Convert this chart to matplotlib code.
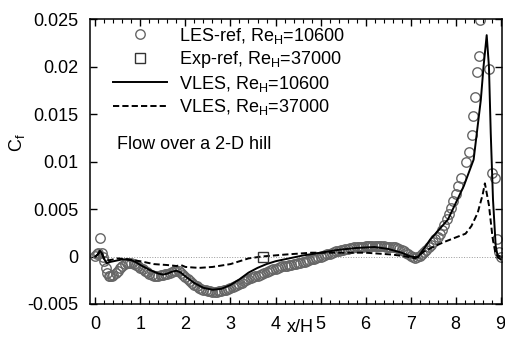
import matplotlib
matplotlib.use("Agg")
import matplotlib.pyplot as plt
from matplotlib.ticker import MultipleLocator

plt.rcParams["font.family"] = ["Liberation Sans", "DejaVu Sans"]
plt.rcParams["mathtext.fontset"] = "custom"
plt.rcParams["mathtext.rm"] = "Liberation Sans"
plt.rcParams["mathtext.default"] = "regular"

# LES reference, Re_H = 10600 (Cf values x 1e-3)
les_x = [0.00, 0.03, 0.06, 0.11, 0.14, 0.17, 0.20, 0.23, 0.26, 0.30, 0.33, 0.36,
         0.40, 0.45, 0.50, 0.55, 0.60, 0.65, 0.70, 0.75, 0.80, 0.85, 0.90, 0.95,
         1.00, 1.05, 1.10, 1.15, 1.20, 1.25, 1.30, 1.35, 1.40, 1.45, 1.50, 1.55,
         1.60, 1.65, 1.70, 1.75, 1.80, 1.85, 1.90, 1.95, 2.00, 2.05, 2.10, 2.15,
         2.20, 2.25, 2.30, 2.35, 2.40, 2.45, 2.50, 2.55, 2.60, 2.65, 2.70, 2.75,
         2.80, 2.85, 2.90, 2.95, 3.00, 3.05, 3.10, 3.15, 3.20, 3.25, 3.30, 3.35,
         3.40, 3.45, 3.50, 3.55, 3.60, 3.65, 3.70, 3.75, 3.80, 3.85, 3.90, 3.95,
         4.00, 4.05, 4.10, 4.15, 4.20, 4.25, 4.30, 4.35, 4.40, 4.45, 4.50, 4.55,
         4.60, 4.65, 4.70, 4.75, 4.80, 4.85, 4.90, 4.95, 5.00, 5.05, 5.10, 5.15,
         5.20, 5.25, 5.30, 5.35, 5.40, 5.45, 5.50, 5.55, 5.60, 5.65, 5.70, 5.75,
         5.80, 5.85, 5.90, 5.95, 6.00, 6.05, 6.10, 6.15, 6.20, 6.25, 6.30, 6.35,
         6.40, 6.45, 6.50, 6.55, 6.60, 6.65, 6.70, 6.75, 6.80, 6.85, 6.90, 6.95,
         7.00, 7.05, 7.10, 7.15, 7.20, 7.25, 7.30, 7.35, 7.40, 7.45, 7.50, 7.55,
         7.60, 7.65, 7.70, 7.75, 7.80, 7.85, 7.90, 7.95, 8.00, 8.05, 8.11,
         8.22, 8.29, 8.36, 8.38, 8.43, 8.47, 8.51, 8.54,
         8.74, 8.80, 8.87, 8.91, 8.96, 9.00]
les_y = [0.1, 0.3, 0.4, 2.0, 0.4, 0.0, -0.5, -1.2, -1.7, -2.0, -2.1, -2.0,
         -1.9, -1.7, -1.5, -1.2, -1.0, -0.8, -0.7, -0.65, -0.7, -0.8, -0.9, -1.05,
         -1.2, -1.35, -1.5, -1.65, -1.8, -1.9, -2.0, -2.05, -2.0, -1.95, -1.9, -1.85,
         -1.8, -1.7, -1.6, -1.55, -1.5, -1.55, -1.7, -1.95, -2.2, -2.4, -2.6, -2.8,
         -3.0, -3.15, -3.3, -3.4, -3.5, -3.55, -3.6, -3.65, -3.7, -3.7, -3.7, -3.65,
         -3.6, -3.55, -3.5, -3.4, -3.3, -3.2, -3.1, -3.0, -2.9, -2.75, -2.6, -2.5,
         -2.4, -2.3, -2.2, -2.1, -2.0, -1.9, -1.8, -1.7, -1.6, -1.5, -1.4, -1.35,
         -1.3, -1.2, -1.1, -1.05, -1.0, -0.95, -0.9, -0.85, -0.8, -0.75, -0.7, -0.65,
         -0.6, -0.55, -0.5, -0.4, -0.3, -0.25, -0.2, -0.1, 0.0, 0.1, 0.2, 0.25,
         0.3, 0.4, 0.5, 0.55, 0.6, 0.65, 0.7, 0.75, 0.8, 0.85, 0.9, 0.95,
         1.0, 1.0, 1.0, 1.05, 1.1, 1.1, 1.1, 1.1, 1.1, 1.1, 1.1, 1.1,
         1.1, 1.05, 1.0, 1.0, 1.0, 0.95, 0.9, 0.8, 0.7, 0.55, 0.4, 0.25,
         0.1, -0.1, -0.2, -0.1, 0.1, 0.3, 0.5, 0.7, 0.95, 1.2, 1.5, 1.8,
         2.1, 2.4, 2.8, 3.3, 3.9, 4.5, 5.1, 5.8, 6.6, 7.4, 8.3,
         9.9, 11.0, 12.8, 14.8, 16.8, 19.4, 21.1, 24.9,
         19.7, 8.8, 8.3, 1.8, 0.5, -0.1]

# experiment, Re_H = 37000
exp_x = [3.73]
exp_y = [0.0]

# VLES, Re_H = 10600
vles1_x = [0.00, 0.05, 0.10, 0.15, 0.20, 0.25, 0.30, 0.40, 0.50, 0.60, 0.70, 0.80,
           0.90, 1.00, 1.20, 1.40, 1.50, 1.60, 1.70, 1.80, 1.90, 2.00, 2.20, 2.40,
           2.60, 2.80, 3.00, 3.20, 3.40, 3.60, 3.80, 4.00, 4.30, 4.60, 5.00, 5.40,
           5.80, 6.20, 6.50, 6.80, 7.00, 7.16, 7.44, 7.83, 8.18, 8.40, 8.56, 8.62,
           8.69, 8.74, 8.78, 8.83, 8.89, 8.94, 9.00]
vles1_y = [0.0, 0.2, 0.6, 0.3, -0.3, -0.7, -0.6, -0.5, -0.4, -0.3, -0.3, -0.4,
           -0.6, -0.9, -1.4, -1.8, -1.9, -1.8, -1.6, -1.5, -1.7, -2.1, -2.8, -3.3,
           -3.5, -3.4, -3.0, -2.4, -1.7, -1.2, -0.8, -0.5, -0.2, 0.1, 0.4, 0.7,
           0.9, 1.0, 0.8, 0.4, 0.0, -0.1, 1.8, 3.9, 7.4, 10.2, 16.5, 20.0,
           23.3, 20.0, 13.0, 6.0, 1.1, -0.1, -0.3]

# VLES, Re_H = 37000
vles2_x = [0.00, 0.05, 0.10, 0.15, 0.20, 0.30, 0.40, 0.50, 0.70, 1.00, 1.30, 1.60,
           1.80, 1.90, 2.00, 2.30, 2.60, 3.00, 3.40, 3.70, 4.20, 4.80, 5.50, 6.00,
           6.60, 6.90, 7.10, 7.29, 7.50, 7.73, 8.00, 8.22, 8.35, 8.49, 8.60, 8.65,
           8.74, 8.82, 8.89, 9.00]
vles2_y = [0.0, 0.2, 0.5, 0.2, -0.3, -0.4, -0.3, -0.2, -0.3, -0.5, -0.8, -0.9,
           -1.0, -0.9, -1.1, -1.2, -1.1, -0.8, -0.2, 0.0, 0.2, 0.4, 0.4, 0.4,
           0.2, 0.0, -0.2, 0.5, 1.0, 1.5, 2.0, 2.4, 3.2, 4.6, 6.5, 7.7,
           5.4, 2.0, 0.2, 0.0]


def scale(vals):
    return [v * 1e-3 for v in vals]


fig = plt.figure(figsize=(5.06, 3.37), dpi=100)
ax = fig.add_axes([90 / 506, 33 / 337, 412 / 506, 285 / 337])

ax.axhline(0, color="#999999", linestyle=":", linewidth=0.7, zorder=1)
ax.plot(les_x, scale(les_y), linestyle="none", marker="o", markersize=6.8,
        markerfacecolor="none", markeredgecolor="#666666", markeredgewidth=1.0,
        label=r"LES-ref, Re$_{H}$=10600", zorder=2)
ax.plot(exp_x, exp_y, linestyle="none", marker="s", markersize=6.5,
        markerfacecolor="none", markeredgecolor="#333333", markeredgewidth=1.0,
        label=r"Exp-ref, Re$_{H}$=37000", zorder=4)
ax.plot(vles1_x, scale(vles1_y), color="black", linewidth=1.4,
        label=r"VLES, Re$_{H}$=10600", zorder=3)
ax.plot(vles2_x, scale(vles2_y), color="black", linewidth=1.4, linestyle=(0, (3.2, 1.6)),
        label=r"VLES, Re$_{H}$=37000", zorder=3)

ax.set_xlim(-0.12, 9.03)
ax.set_ylim(-0.005, 0.025)
ax.xaxis.set_major_locator(MultipleLocator(1))
ax.xaxis.set_minor_locator(MultipleLocator(0.2))
ax.set_yticks([-0.005, 0, 0.005, 0.01, 0.015, 0.02, 0.025])
ax.set_yticklabels(["-0.005", "0", "0.005", "0.01", "0.015", "0.02", "0.025"])
ax.tick_params(which="both", direction="in", top=True, right=True, labelsize=13)
ax.tick_params(which="major", length=5, width=1, pad=8.5)
ax.tick_params(which="minor", length=3, width=0.8)
for sp in ax.spines.values():
    sp.set_linewidth(1.1)

ax.text(-0.177, 0.565, r"C$_{f}$", transform=ax.transAxes, rotation=90,
        ha="center", va="center", fontsize=13)
ax.text(0.511, -0.083, "x/H", transform=ax.transAxes, ha="center", va="center",
        fontsize=13)
ax.text(0.065, 0.56, "Flow over a 2-D hill", transform=ax.transAxes,
        ha="left", va="center", fontsize=13)

ax.legend(loc="upper left", bbox_to_anchor=(0.03, 1.015), frameon=False,
          fontsize=13, handlelength=3.0, handletextpad=0.65, labelspacing=0.2,
          borderaxespad=0.2)

fig.savefig("out.png", dpi=100)
